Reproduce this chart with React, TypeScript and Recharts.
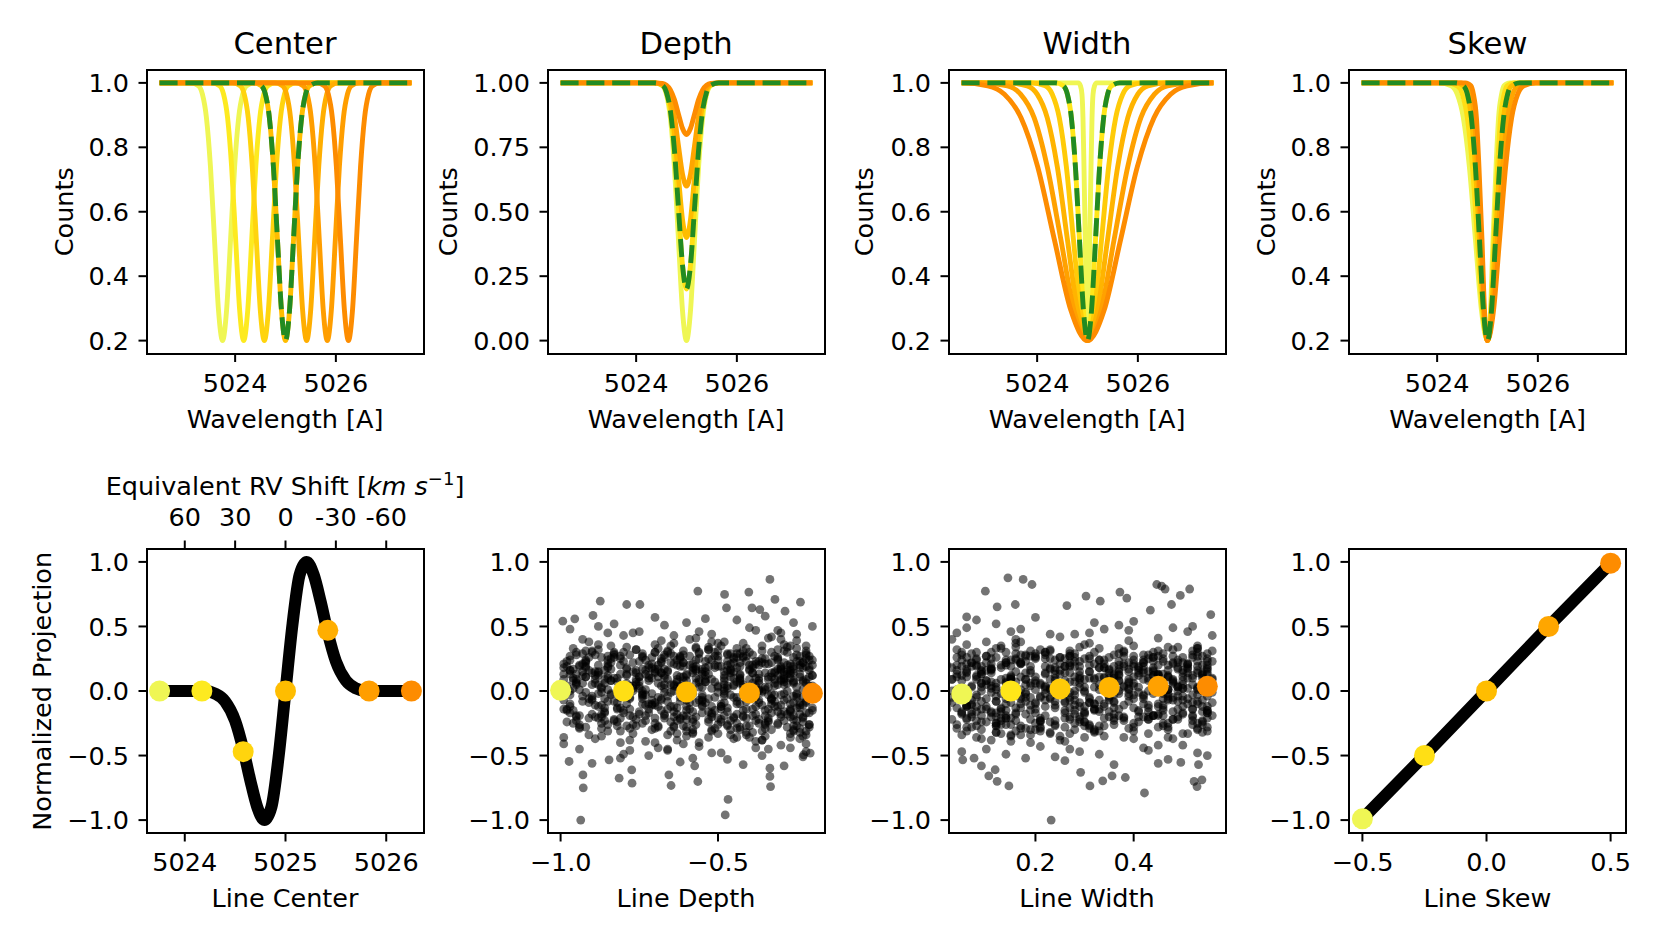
import React from "react";
import { ComposedChart, Line, Scatter, XAxis, YAxis } from "recharts";

type Pt = { x: number; y: number; c?: string };

const FONT = "'DejaVu Sans', Verdana, sans-serif";
const TICK_PX = 25.5;
const TITLE_PX = 30.6;

// Wistia samples, yellow -> orange
const colors7 = ["#eff654", "#fdea20", "#ffd40e", "#ffbd00", "#ffae00", "#ff9e00", "#fd8c00"];
const colors6 = ["#eff654", "#ffe619", "#ffcb08", "#ffb400", "#ffa100", "#fd8c00"];
const colors5 = ["#eff654", "#ffdf15", "#ffbd00", "#ffa600", "#fd8c00"];
const refGreen = "#228b22";

const panelTitles = ["Center", "Depth", "Width", "Skew"];
const bottomLabels = ["Line Center", "Line Depth", "Line Width", "Line Skew"];

// spectra run over this wavelength range
const waveStart = 5022.5;
const waveEnd = 5027.5;

// reference line: counts at each level and distance from line centre [A]
const refLevels = [1.0, 0.991, 0.965, 0.892, 0.74, 0.515, 0.294, 0.2];
const refOffsets = [0.64, 0.48, 0.4, 0.32, 0.24, 0.16, 0.08, 0];

// "Center" panel
const lineCenters = [5023.75, 5024.17, 5024.58, 5025.0, 5025.42, 5025.83, 5026.25];

// "Depth" panel: counts at the same offsets
const depthLevels = [
  [1, 0.989, 0.956, 0.865, 0.675, 0.393, 0.118, 0],
  [1, 0.991, 0.965, 0.892, 0.74, 0.515, 0.294, 0.2],
  [1, 0.993, 0.974, 0.919, 0.805, 0.636, 0.471, 0.4],
  [1, 0.996, 0.982, 0.946, 0.87, 0.757, 0.647, 0.6],
  [1, 0.998, 0.991, 0.973, 0.935, 0.879, 0.824, 0.8],
];

// "Width" panel: offsets at the reference levels
const widthOffsets = [
  [0.18, 0.14, 0.11, 0.09, 0.07, 0.045, 0.02, 0],
  [0.64, 0.48, 0.4, 0.32, 0.24, 0.16, 0.08, 0],
  [1.12, 0.84, 0.7, 0.56, 0.42, 0.28, 0.14, 0],
  [1.6, 1.2, 1.0, 0.8, 0.6, 0.4, 0.2, 0],
  [2.12, 1.59, 1.33, 1.06, 0.8, 0.53, 0.27, 0],
  [2.49, 1.98, 1.65, 1.32, 0.99, 0.66, 0.33, 0],
];

// "Skew" panel: blue-side / red-side offsets
const skewLeft = [
  [0.96, 0.72, 0.6, 0.48, 0.36, 0.24, 0.12, 0],
  [0.8, 0.6, 0.5, 0.4, 0.3, 0.2, 0.1, 0],
  [0.64, 0.48, 0.4, 0.32, 0.24, 0.16, 0.08, 0],
  [0.52, 0.39, 0.33, 0.26, 0.2, 0.13, 0.07, 0],
  [0.44, 0.33, 0.28, 0.22, 0.17, 0.11, 0.06, 0],
];
const skewRight = [
  [0.44, 0.33, 0.28, 0.22, 0.17, 0.11, 0.06, 0],
  [0.52, 0.39, 0.33, 0.26, 0.2, 0.13, 0.07, 0],
  [0.64, 0.48, 0.4, 0.32, 0.24, 0.16, 0.08, 0],
  [0.8, 0.6, 0.5, 0.4, 0.3, 0.2, 0.1, 0],
  [0.96, 0.72, 0.6, 0.48, 0.36, 0.24, 0.12, 0],
];

// bottom row
const projWave = [5023.75, 5024.2, 5024.3, 5024.4, 5024.5, 5024.58, 5024.65, 5024.72, 5024.79, 5024.86, 5024.93, 5025.0,
  5025.07, 5025.14, 5025.21, 5025.28, 5025.35, 5025.42, 5025.5, 5025.6, 5025.7, 5025.8, 5026.25];
const projValue = [0, 0, -0.02, -0.08, -0.23, -0.45, -0.69, -0.9, -1.0, -0.9, -0.52, 0,
  0.52, 0.9, 1.0, 0.9, 0.69, 0.45, 0.23, 0.08, 0.02, 0, 0];
const centerPtX = [5023.75, 5024.17, 5024.58, 5025.0, 5025.42, 5025.83, 5026.25];
const centerPtY = [0, 0, -0.47, 0, 0.47, 0, 0];

const depthPtX = [-1.0, -0.8, -0.6, -0.4, -0.2];
const depthPtY = [0.005, 0.0, -0.008, -0.015, -0.018];
const widthPtX = [0.05, 0.15, 0.25, 0.35, 0.45, 0.55];
const widthPtY = [-0.023, 0.0, 0.016, 0.028, 0.036, 0.036];
const skewPtX = [-0.5, -0.25, 0, 0.25, 0.5];
const skewPtY = [-0.99, -0.5, 0, 0.5, 0.99];
const skewLineX = [-0.5, -0.25, 0, 0.25, 0.5];
const skewLineY = [-0.99, -0.5, 0, 0.5, 0.99];

const rvTickWaves = [5024, 5024.5, 5025, 5025.5, 5026];
const rvTickLabels = ["60", "30", "0", "-30", "-60"];

// noise clouds, x,y pairs
const depthCloud = [
  -.936,-1.0, -.477,-.96, -.468,-.84, -.928,-.75, -.929,-.65, -.335,.864, -.564,.774, -.479,.748, -.402,.766, -.238,.688,
  -.319,.709, -.874,.696, -.79,.67, -.748,.67, -.473,.644, -.392,.644, -.367,.631, -.287,.618, -.897,.585, -.993,.541,
  -.955,.559, -.814,-.675, -.774,-.611, -.773,-.714, -.649,-.732, -.564,-.701, -.574,-.58, -.333,-.74, -.335,-.662, -.335,-.598,
  -.207,-.481, -.228,-.494, -.973,-.546, -.846,-.533, -.656,-.649,
  -.93,.12, -.41,-.21, -.67,.05, -.25,.33, -.82,-.09, -.54,.18, -.36,-.38, -.71,.26, -.98,-.14, -.47,.02,
  -.61,-.27, -.29,.09, -.88,.36, -.44,-.05, -.76,.14, -.22,-.31, -.57,.41, -.95,.07, -.33,-.17, -.69,-.44,
  -.85,.21, -.52,-.12, -.27,.19, -.64,.00, -.91,-.34, -.39,.28, -.74,-.06, -.21,.11, -.58,-.22, -.80,.43,
  -.45,.04, -.97,.24, -.31,-.26, -.66,.15, -.84,-.02, -.50,.37, -.23,-.11, -.78,-.29, -.36,.22, -.62,-.08,
  -.90,-.18, -.42,.31, -.70,-.40, -.26,.06, -.55,.13, -.83,.29, -.34,-.03, -.60,-.35, -.96,.17, -.48,-.19,
  -.72,.10, -.30,-.42, -.87,.02, -.53,.25, -.20,-.15, -.65,-.24, -.40,.16, -.79,.34, -.99,-.07, -.46,-.30,
  -.24,.27, -.59,-.01, -.81,-.21, -.37,.08, -.68,.39, -.94,-.26, -.43,-.10, -.28,.20, -.75,-.16, -.51,.30,
  -.86,.06, -.32,.14, -.63,-.33, -.21,-.04, -.77,.22, -.49,-.14, -.92,.31, -.38,-.23, -.56,.09, -.73,-.39,
  -.44,.18, -.89,-.11, -.27,-.36, -.67,.12, -.35,.03, -.82,-.27, -.52,.44, -.24,.23, -.97,.00, -.60,-.12,
  -.78,-.05, -.42,.27, -.58,.16, -.30,-.20, -.85,.19, -.66,-.46, -.23,.08, -.48,-.02, -.91,.38, -.39,-.32,
  -.63,.24, -.25,-.13, -.80,.01, -.45,-.37, -.70,.30, -.33,.11, -.95,-.19, -.54,.07, -.28,-.06, -.74,.17,
  -.37,-.25, -.88,.12, -.57,-.09, -.22,.35, -.69,-.28, -.47,.20, -.84,-.03, -.31,.26, -.64,.05, -.99,-.36,
  -.53,.32, -.29,-.16, -.76,.09, -.41,-.04, -.93,.15, -.61,-.41, -.35,.21, -.83,-.22, -.26,-.30, -.56,.03,
  -.72,-.14, -.43,.06, -.20,.24, -.67,-.19, -.89,.28, -.50,-.33, -.32,-.08, -.79,.13, -.59,.40, -.94,.01,
  -.27,.10, -.65,.35, -.87,-.25, -.40,.17, -.55,-.07, -.23,-.35, -.75,.04, -.46,.29, -.97,-.12, -.34,-.45,
  -.60,.08, -.81,-.31, -.38,.23, -.71,-.02, -.29,.15, -.52,-.20, -.92,.22, -.44,-.10, -.66,.31, -.21,.02,
  -.86,-.17, -.35,-.29, -.62,.19, -.25,.28, -.78,-.06, -.48,.12, -.96,.33, -.57,-.26, -.31,.05, -.73,-.11,
  -.42,.37, -.90,-.04, -.54,.07, -.24,-.18, -.68,.25, -.36,-.38, -.83,.10, -.47,.16, -.63,-.23, -.28,.30,
  -.77,.00, -.51,-.15, -.33,.42, -.85,.18, -.58,-.32, -.22,-.09, -.70,.14, -.40,-.27, -.95,.06, -.64,.21,
  -.30,-.03, -.74,.26, -.45,-.21, -.89,-.37, -.61,.11, -.26,.17, -.82,-.13, -.53,.34, -.37,.01, -.98,.23,
  -.56,-.40, -.23,.22, -.69,-.05, -.43,.09, -.91,.16, -.34,-.24, -.76,.32, -.49,-.12, -.27,-.16, -.62,.04,
  -.81,.27, -.39,.00, -.59,.20, -.22,-.41, -.72,-.17, -.46,.14, -.94,-.28, -.31,.25, -.67,-.01, -.52,.38,
  -.28,.13, -.84,.08, -.41,-.34, -.65,.29, -.36,-.11, -.87,-.20, -.55,.03, -.24,.18, -.77,.45, -.47,-.26,
  -.93,-.08, -.50,.24, -.32,.06, -.71,-.30, -.20,.12, -.60,-.15, -.44,.33, -.80,.02, -.26,-.22, -.57,.17,
  -.66,.30, -.37,-.07, -.86,-.23, -.48,.10, -.29,.36, -.75,.07, -.53,-.36, -.97,.13, -.40,-.02, -.63,-.18,
  -.21,-.26, -.70,.15, -.45,.25, -.88,.05, -.34,-.14, -.58,.21, -.79,-.10, -.25,.39, -.51,-.29, -.92,.11,
  -.38,.04, -.64,-.20, -.27,-.33, -.83,.26, -.43,.19, -.74,-.04, -.30,.08, -.56,-.43, -.96,-.15, -.47,.28,
  -.73,.16, -.23,.01, -.61,.31, -.39,-.19, -.90,-.06, -.52,.09, -.35,-.25, -.68,.23, -.85,-.31, -.26,.14,
  -.49,-.10, -.81,.20, -.32,.27, -.59,-.01, -.24,-.37, -.72,.12, -.42,.05, -.95,.30, -.55,-.17, -.36,.35,
  -.87,.03, -.46,-.23, -.21,.18, -.65,-.12, -.33,.22, -.78,-.38, -.54,.15, -.29,-.07, -.99,.09, -.62,.26,
  -.41,-.32, -.76,.07, -.25,-.03, -.57,.19, -.84,.35, -.37,.13, -.69,-.27, -.48,.00, -.22,.29, -.91,-.21,
  -.60,.12, -.30,.40, -.80,-.15, -.44,-.08, -.67,.17, -.23,-.20, -.52,.24, -.89,.06, -.35,-.35, -.74,-.02,
  -.27,.16, -.58,-.30, -.93,.21, -.40,.02, -.71,-.11, -.31,.32, -.85,-.08, -.50,.19, -.64,.37, -.20,-.13,
  -.82,-.24, -.45,.15, -.28,-.18, -.63,.07, -.97,.27, -.38,-.44, -.75,.11, -.55,-.05, -.24,.20, -.69,.33,
  -.36,.25, -.88,-.02, -.53,-.22, -.21,.04, -.79,.18, -.47,-.16, -.33,.14, -.66,-.34, -.92,.24, -.43,.08,
  -.70,-.09, -.26,-.27, -.61,.28, -.85,.12, -.39,-.01, -.57,.34, -.94,-.19, -.29,.10, -.50,.03, -.77,-.33,
  -.46,.21, -.73,.01, -.22,.31, -.59,-.14, -.34,-.21, -.86,.09, -.42,.26, -.68,-.07, -.98,-.24, -.31,.17,
  -.55,-.03, -.90,.14, -.37,.06, -.64,-.28, -.25,.23, -.80,.30, -.49,-.12, -.23,-.05, -.72,.20, -.44,-.36,
  -.83,.28, -.33,-.10, -.67,-.18, -.48,.38, -.95,.05, -.27,.13, -.58,-.24, -.76,.16, -.40,.09, -.21,-.28,
  -.62,.11, -.87,-.29, -.30,.19, -.53,-.06, -.78,-.14, -.41,.27, -.96,.02, -.35,-.19, -.70,.36, -.51,.07,
  -.24,-.11, -.65,.22, -.89,.15, -.44,-.25, -.32,.04, -.74,-.03, -.56,.29, -.20,.12, -.81,-.40, -.38,-.05,
  -.92,.18, -.49,.35, -.27,-.15, -.71,.10, -.60,-.22, -.37,.00, -.84,.25, -.22,-.34, -.54,-.09, -.68,.14,
  -.43,-.30, -.79,.06, -.26,.26, -.57,.16, -.97,-.10, -.34,.21, -.63,-.38, -.46,.11, -.88,.32, -.29,-.02,
  -.75,.23, -.52,-.17, -.23,.07, -.85,-.26, -.40,.30, -.68,.04, -.31,-.12, -.94,.19, -.59,.27, -.45,-.20,
  -.28,.34, -.66,-.08, -.82,.10, -.36,-.31, -.55,.15, -.21,.24, -.73,-.19, -.48,-.04, -.99,.13, -.39,.20,
  -.58,-.16, -.32,.09, -.87,-.35, -.47,.29, -.25,-.23, -.70,.17, -.42,.03, -.91,-.06, -.61,.22, -.34,.41,
  -.80,.01, -.44,-.18, -.63,.12, -.29,.31, -.76,-.27, -.51,.18, -.22,.06, -.86,-.13, -.38,-.39, -.67,.26,
  -.35,.14, -.95,.28, -.56,-.07, -.24,-.29, -.72,.08, -.43,.22, -.89,-.20, -.30,.16, -.60,-.31, -.48,.05,
  -.69,-.12, -.27,.35, -.81,.13, -.50,-.26, -.37,.10, -.92,-.01, -.64,.27, -.21,-.17, -.46,.17, -.77,.04,
  -.41,.23, -.62,-.21, -.33,-.06, -.88,.20, -.53,.32, -.26,-.09, -.74,-.25, -.97,.16, -.39,-.14, -.57,.10,
  -.97,.48, -.58,-.52, -.31,.47, -.80,-.49, -.44,.55, -.22,-.47, -.67,.51, -.90,-.56, -.36,-.50, -.75,.46,
  -.52,-.48, -.26,.53, -.85,.45, -.62,-.55, -.40,.49, -.94,-.45, -.70,.57, -.29,-.58, -.47,-.53, -.83,.52,
  -.35,.58, -.99,-.41, -.56,.46, -.23,-.51, -.78,-.46, -.64,.43, -.42,-.57, -.88,.50, -.30,.45, -.72,-.50,
  -.60,.53, -.27,-.44, -.93,.40, -.49,-.48, -.20,.50, -.81,-.52, -.38,.47, -.66,-.45, -.54,.56, -.25,.44,
  -.98,.19, -.55,-.08, -.31,.12, -.74,.27, -.42,-.19, -.87,-.01, -.23,-.24, -.63,.09, -.36,.31, -.81,-.13,
  -.50,.04, -.92,-.28, -.27,.21, -.68,-.15, -.45,.26, -.21,-.06, -.79,.17, -.58,-.33, -.34,.03, -.96,.10,
  -.70,-.21, -.39,.14, -.83,.30, -.25,-.02, -.61,.22, -.47,-.27, -.90,.05, -.30,-.18, -.75,.11, -.53,.19,
  -.22,.28, -.66,-.04, -.95,-.20, -.44,.07, -.57,.33, -.33,-.30, -.86,.16, -.71,-.10, -.28,.00, -.49,-.22,
  -.85,.24, -.37,-.09, -.60,.13, -.20,.20, -.77,-.26, -.52,.02, -.93,.29, -.41,-.14, -.65,-.31, -.26,.08,
  -.48,.15, -.73,-.23, -.32,-.12, -.89,.09, -.56,.25, -.24,-.32, -.69,.06, -.99,.18, -.38,.21, -.62,-.05,
  -.80,-.17, -.43,.29, -.29,.05, -.67,-.21, -.91,-.09, -.54,.12, -.21,.16, -.76,.32, -.46,-.03, -.35,-.26,
  -.59,.01, -.84,.22, -.27,-.14, -.72,.18, -.40,-.36, -.97,-.03, -.51,.27, -.30,.09, -.64,-.12, -.88,.14,
  -.33,-.07, -.78,.04, -.57,-.20, -.22,.25, -.94,.20, -.45,.10, -.70,-.29, -.26,-.19, -.82,.07, -.50,.31,
  -.66,.16, -.36,.00, -.87,-.11, -.53,-.24, -.24,.13, -.73,.24, -.42,-.15, -.96,-.25, -.61,.08, -.29,.22,
  -.90,.31, -.48,-.09, -.25,-.27, -.63,.03, -.39,.18, -.81,-.05, -.58,.14, -.21,-.01, -.75,-.18, -.44,.26,
  -.34,.11, -.69,.20, -.86,-.16, -.52,-.31, -.28,.06, -.95,.13, -.60,-.07, -.41,.33, -.77,.02, -.23,-.21,
  -.55,-.12, -.30,.17, -.92,.23, -.47,.04, -.72,-.10, -.37,-.22, -.84,.08, -.62,.27, -.26,-.04, -.99,-.14,
  -.79,.12, -.43,-.28, -.65,-.01, -.31,.24, -.88,.15, -.56,.07, -.22,-.17, -.70,-.25, -.49,.19, -.35,.01,
  -.61,-.19, -.93,.06, -.38,.10, -.74,.29, -.27,-.10, -.51,-.05, -.83,-.23, -.45,.22, -.68,.14, -.20,.04,
  -.42,-.02, -.87,.26, -.58,.18, -.24,-.13, -.76,.05, -.33,.30, -.97,-.17, -.64,-.27, -.48,.08, -.29,-.23,
  -.71,.21, -.53,-.16, -.36,-.01, -.90,-.07, -.26,.19, -.67,.10, -.44,-.29, -.80,.23, -.59,.03, -.32,.15,
  -.95,.09, -.40,.20, -.63,-.13, -.22,-.08, -.78,.28, -.50,-.21, -.85,.01, -.30,-.11, -.69,.17, -.46,-.34,
  -.57,.06, -.27,-.20, -.82,-.14, -.43,.13, -.73,-.03, -.35,.25, -.92,.19, -.60,.00, -.24,.11, -.52,-.18,
  -.86,-.06, -.47,.23, -.66,.09, -.31,-.25, -.98,.04, -.55,-.11, -.21,.27, -.77,-.20, -.39,.06, -.70,.30,
  -.28,.16, -.62,-.22, -.89,.12, -.45,-.05, -.34,.09, -.75,.02, -.51,.20, -.94,-.29, -.25,.03, -.64,-.16,
  -.81,.25, -.38,-.12, -.56,.30, -.23,.18, -.71,-.07, -.49,-.24, -.96,.08, -.33,-.02, -.68,.22, -.43,.12,
  -.60,-.28, -.84,.17, -.29,.07, -.53,.13, -.78,-.19, -.41,-.08, -.91,.26, -.26,-.31, -.65,.05, -.37,.20,
  -.74,.00, -.46,.16, -.99,.21, -.31,-.16, -.58,-.02, -.88,-.12, -.22,.09, -.67,.28, -.42,-.20, -.54,.23,
  -.35,-.15, -.69,.11, -.93,-.04, -.50,.27, -.27,.14, -.79,-.27, -.61,.19, -.40,.01, -.85,.10, -.24,-.09,
  -.57,.24, -.32,-.03, -.76,-.22, -.47,-.13, -.97,.16, -.64,.04, -.21,-.26, -.83,-.08, -.44,.29, -.70,-.11,
  -.26,.07, -.90,.30, -.59,-.09, -.37,.23, -.73,.13, -.52,-.30, -.87,-.18, -.30,.18, -.66,-.14, -.48,.02,
  -.95,-.23, -.43,.10, -.23,.22, -.68,-.06, -.55,.17, -.81,.03, -.38,-.18, -.62,.25, -.28,-.28, -.77,.15,
  -.50,-.01, -.71,.18, -.34,-.23, -.92,.11, -.25,-.05, -.60,-.19, -.85,.27, -.45,.05, -.74,-.10, -.39,.14,
  -.63,.20, -.29,.12, -.80,-.03, -.54,.09, -.98,-.15, -.41,-.27, -.67,.02, -.22,.19, -.88,-.21, -.33,-.06,
];

const widthCloud = [
  .232,-1.0, .422,-.79, .146,-.735, .122,-.70, .118,-.61, .105,-.657, .311,-.735, .337,-.696, .356,-.657, .383,-.67,
  .292,-.63, .529,-.74, .539,-.688, .523,-.70, .532,-.57, .496,-.553, .144,.877, .175,.864, .193,.825, .098,.773,
  .447,.825, .457,.812, .464,.79, .514,.79, .495,.74, .303,.735, .372,.766, .386,.72, .332,.696, .122,.652,
  .159,.67, .264,.662, .06,.574, .052,-.533, .075,-.52, .557,.592, .434,.626, .477,.67,
  .07,-.18, .33,.24, .49,.03, .15,-.35, .41,.12, .22,-.07, .55,.29, .11,.16, .28,-.25, .46,-.02,
  .19,.31, .52,-.14, .05,.08, .37,.20, .26,-.39, .44,.05, .13,-.21, .31,.37, .56,-.09, .09,.13,
  .40,-.28, .17,.01, .50,.22, .24,.10, .06,-.31, .35,-.16, .47,.34, .12,-.04, .29,.15, .54,-.23,
  .21,.06, .43,-.33, .08,.25, .32,-.10, .53,.14, .16,.40, .38,-.20, .25,.02, .48,-.05, .04,-.26,
  .34,.18, .10,-.12, .45,-.42, .27,.27, .56,.09, .14,-.19, .39,.07, .20,-.30, .51,.21, .30,-.01,
  .12,.33, .42,.16, .23,-.24, .55,-.17, .07,.04, .36,.28, .18,-.08, .47,-.36, .28,.11, .09,-.14,
  .50,.26, .16,.00, .33,-.27, .05,.19, .40,-.06, .22,.13, .53,-.29, .30,.36, .11,-.38, .45,.08,
  .26,-.15, .49,.17, .08,-.03, .37,.23, .19,-.22, .56,.31, .14,.10, .43,-.11, .32,-.32, .04,.20,
  .39,.02, .13,-.26, .46,.29, .24,-.13, .52,-.20, .06,.14, .35,-.04, .17,.38, .29,.06, .48,-.37,
  .20,-.09, .54,.12, .10,.27, .41,-.01, .27,.19, .15,-.34, .50,-.12, .31,.25, .07,-.20, .44,.15,
  .36,-.23, .09,.06, .47,.01, .22,.30, .55,-.28, .18,.09, .42,.22, .12,-.17, .33,-.07, .25,.42,
  .06,-.11, .30,-.36, .51,.18, .16,.24, .38,.04, .04,.32, .45,-.18, .26,-.02, .53,.35, .21,-.24,
  .43,.10, .14,.20, .28,-.30, .49,-.08, .11,-.01, .35,.14, .19,-.40, .56,.23, .32,.03, .08,-.27,
  .24,.16, .47,-.25, .13,.35, .40,.11, .05,-.16, .29,-.09, .52,.05, .17,.28, .37,-.19, .55,.13,
  .31,-.05, .07,.22, .44,.26, .20,-.14, .50,-.33, .26,.08, .10,-.06, .39,.39, .15,.12, .48,-.22,
  .17,-.29, .53,.02, .34,.21, .09,-.37, .42,-.03, .23,.17, .55,-.15, .12,.26, .46,.07, .28,-.18,
  .45,.31, .21,-.04, .06,.17, .38,-.21, .27,.29, .51,.10, .14,-.10, .32,-.31, .04,.01, .41,.19,
  .11,.07, .36,.13, .52,-.26, .19,.19, .30,-.12, .08,-.23, .48,.27, .25,-.35, .43,.00, .16,.34,
  .33,-.16, .56,.05, .12,-.32, .47,.16, .22,.04, .40,-.13, .05,.28, .29,.23, .54,-.07, .18,-.02,
  .27,.22, .09,-.08, .44,-.19, .15,.09, .37,.33, .53,-.30, .24,-.27, .06,.11, .34,.18, .49,.24,
  .14,-.06, .42,.19, .28,.07, .55,.20, .03,-.22, .31,-.29, .20,.27, .46,-.11, .10,.38, .36,-.03,
  .50,-.17, .18,.14, .39,-.08, .07,-.28, .25,.21, .53,.01, .13,-.33, .44,.30, .32,-.14, .21,.05,
  .08,.24, .35,-.05, .47,.12, .16,-.18, .29,.34, .41,-.24, .23,.02, .55,-.04, .11,.17, .38,-.36,
  .30,.09, .52,.26, .12,.03, .43,-.16, .19,-.11, .06,.36, .37,.15, .26,-.21, .49,.18, .15,-.39,
  .45,-.10, .22,.25, .04,-.13, .33,.01, .54,-.24, .17,.21, .40,-.31, .09,.06, .28,.26, .51,-.06,
  .25,.13, .47,-.02, .14,.30, .36,-.26, .08,.11, .42,.24, .19,-.15, .53,.16, .31,-.09, .05,-.34,
  .38,.27, .11,-.20, .50,.08, .23,-.32, .44,.02, .16,.15, .56,-.19, .27,.07, .07,.22, .34,-.12,
  .18,-.01, .40,-.37, .29,.19, .55,.25, .12,-.25, .48,-.07, .21,.32, .03,.00, .36,.12, .46,-.27,
  .06,.15, .31,.10, .43,.28, .15,-.09, .52,-.14, .24,-.23, .10,.27, .39,-.02, .20,.08, .49,.34,
  .35,-.20, .17,-.13, .54,.14, .28,.23, .08,-.05, .45,.20, .32,-.30, .13,.18, .41,-.16, .23,.01,
  .48,.06, .26,-.17, .05,.12, .37,.29, .19,-.34, .53,-.10, .11,.02, .42,.09, .30,-.24, .15,.24,
  .22,-.12, .44,.16, .09,-.19, .33,.05, .51,.21, .16,-.03, .39,-.29, .27,.31, .55,-.21, .03,.09,
  .40,.35, .12,-.27, .49,-.04, .20,.11, .34,-.10, .07,-.16, .46,.13, .25,-.38, .14,.06, .54,.27,
  .29,.03, .51,-.33, .17,.22, .43,-.22, .10,.16, .36,.19, .23,-.06, .47,.01, .05,.30, .32,-.15,
  .13,.20, .38,-.11, .55,.07, .26,.14, .45,-.28, .18,.28, .32,.09, .08,-.12, .50,-.18, .21,-.31,
  .42,-.04, .24,.18, .06,-.21, .53,.33, .30,.00, .15,-.26, .47,.11, .35,-.07, .11,.25, .27,-.20,
  .20,.29, .49,.04, .34,-.35, .09,.03, .44,.23, .27,-.13, .02,-.09, .39,.17, .56,-.01, .16,-.17,
  .37,.12, .14,.07, .52,-.23, .25,.26, .41,.14, .07,.19, .31,-.27, .48,.32, .19,-.05, .45,-.12,
  .10,-.24, .33,.33, .46,-.15, .22,-.02, .54,.10, .28,.19, .12,-.32, .40,.06, .17,.21, .50,.02,
  .26,-.08, .04,.13, .38,.21, .55,-.12, .16,.37, .43,-.20, .31,.15, .08,.09, .47,-.30, .23,.25,
  .35,.04, .51,.20, .13,-.14, .29,-.22, .45,.12, .20,-.10, .06,.26, .40,-.25, .24,.08, .53,-.03,
  .17,.11, .42,-.06, .27,.27, .09,-.30, .49,.03, .34,.24, .15,-.01, .55,.17, .30,-.17, .11,.14,
  .44,-.19, .21,-.28, .36,.10, .03,.18, .52,-.09, .25,.16, .39,-.04, .14,-.21, .48,.22, .32,.30,
  .07,-.07, .46,.25, .19,.04, .54,-.16, .28,-.11, .11,.21, .37,.00, .23,-.33, .50,.11, .41,.18,
  .31,.15, .16,-.23, .43,-.13, .05,-.01, .35,.26, .55,.06, .22,.19, .48,-.22, .12,-.08, .27,-.05,
  .06,.49, .29,-.47, .51,.46, .18,-.52, .40,.54, .10,-.45, .34,.48, .55,-.50, .23,.44, .45,-.56,
  .14,-.49, .37,.51, .04,.45, .26,-.54, .48,.49, .20,.57, .43,-.46, .09,-.58, .31,.45, .53,-.48,
  .39,.47, .12,.52, .47,-.53, .28,.44, .05,-.47, .33,-.49, .56,.43, .17,.48, .42,-.44, .24,-.51,
  .08,.55, .45,.41, .21,-.43, .52,.50, .36,-.57, .15,.46, .27,-.45, .50,-.42, .03,.40, .32,.53,
  .09,.19, .36,-.08, .52,.12, .18,.27, .44,-.19, .05,-.01, .29,-.24, .48,.09, .23,.31, .13,-.13,
  .40,.04, .06,-.28, .32,.21, .55,-.15, .20,.26, .46,-.06, .11,.17, .27,-.33, .53,.03, .15,.10,
  .34,-.21, .50,.14, .08,.30, .25,-.02, .42,.22, .17,-.27, .55,.05, .30,-.18, .04,.11, .38,.19,
  .22,.28, .47,-.04, .12,-.20, .35,.07, .53,.33, .19,-.30, .41,.16, .07,-.10, .28,.00, .49,-.22,
  .14,.24, .31,-.09, .45,.13, .02,.20, .24,-.26, .51,.02, .16,.29, .37,-.14, .55,-.31, .10,.08,
  .43,.15, .21,-.23, .06,-.12, .39,.09, .26,.25, .54,-.32, .12,.06, .33,.18, .48,.21, .18,-.05,
  .05,-.17, .28,.29, .50,.05, .15,-.21, .36,-.09, .44,.12, .09,.16, .23,.32, .52,-.03, .31,-.26,
  .47,.01, .17,.22, .33,-.14, .55,.18, .08,-.36, .25,-.03, .40,.27, .13,.09, .29,-.12, .51,.14,
  .27,-.07, .11,.04, .42,-.20, .20,.25, .54,.20, .35,.10, .04,-.29, .46,-.19, .16,.07, .38,.31,
  .19,.16, .49,.00, .07,-.11, .30,-.24, .45,.13, .24,.24, .14,-.15, .53,-.25, .37,.08, .10,.22,
  .52,.31, .26,-.09, .12,-.27, .41,.03, .33,.18, .03,-.05, .22,.14, .55,-.01, .18,-.18, .44,.26,
  .34,.11, .08,.20, .48,-.16, .16,-.31, .39,.06, .54,.13, .28,-.07, .13,.33, .45,.02, .21,-.21,
  .06,-.12, .37,.17, .53,.23, .24,.04, .17,-.10, .43,-.22, .10,.08, .31,.27, .50,-.04, .02,-.14,
  .29,.12, .47,-.28, .15,-.01, .40,.24, .09,.15, .35,.07, .55,-.17, .20,-.25, .26,.19, .12,.01,
  .45,-.19, .19,.06, .32,.10, .07,.29, .51,-.10, .23,-.05, .38,-.23, .14,.22, .42,.14, .55,.04,
  .25,-.02, .04,.26, .44,.18, .16,-.13, .36,.05, .53,.30, .11,-.17, .30,-.27, .48,.08, .21,-.23,
  .40,.21, .13,-.16, .27,-.01, .50,-.07, .08,.19, .34,.10, .18,-.29, .46,.23, .22,.03, .55,.15,
  .03,.09, .31,.20, .46,-.13, .24,-.08, .52,.28, .14,-.21, .39,.01, .06,-.11, .35,.17, .17,-.34,
  .20,.06, .49,-.20, .10,-.14, .37,.13, .28,-.03, .43,.25, .15,.19, .54,.00, .33,.11, .05,-.18,
  .47,-.06, .18,.23, .29,.09, .12,-.25, .41,-.20, .25,.04, .53,.27, .08,.12, .37,-.02, .22,.30,
  .35,.16, .06,-.22, .44,.12, .21,-.05, .15,.09, .50,.02, .27,.20, .11,-.16, .42,-.10, .32,-.14,
  .16,.25, .54,-.12, .38,.30, .23,.18, .47,-.07, .09,-.24, .30,.03, .55,.23, .13,-.02, .45,.12,
  .26,-.28, .48,.07, .03,-.09, .36,-.18, .19,.14, .42,.28, .10,.05, .33,-.31, .52,.10, .24,.13,
  .07,.03, .40,-.03, .22,-.19, .53,.19, .14,.22, .30,-.16, .46,-.25, .17,-.06, .39,.22, .01,.11,
  .51,.17, .20,.01, .34,-.27, .11,.18, .44,.04, .27,-.22, .06,.21, .49,-.14, .29,.10, .18,.05,
  .32,-.10, .15,.11, .55,.06, .25,.26, .41,-.15, .04,.16, .37,.08, .21,-.29, .47,.20, .12,-.08,
  .45,.27, .09,.00, .29,-.20, .52,-.19, .17,-.04, .39,.15, .23,.09, .05,.24, .34,.02, .56,.10,
  .13,-.23, .43,.08, .26,.19, .08,-.16, .49,.22, .31,-.06, .19,.27, .54,-.26, .36,-.13, .22,.01,
  .38,.03, .11,.30, .47,.11, .28,-.15, .15,.07, .53,-.08, .24,-.11, .40,.19, .06,-.03, .30,.25,
  .20,-.17, .44,-.02, .33,.24, .09,.13, .50,.16, .18,.09, .36,-.21, .27,.14, .54,.03, .14,-.26,
];

// axes
const topYTicks = [0.2, 0.4, 0.6, 0.8, 1.0];
const depthYTicks = [0, 0.25, 0.5, 0.75, 1.0];
const bottomYTicks = [-1, -0.5, 0, 0.5, 1];
const waveTicks = [5024, 5026];
const centerTicks = [5024, 5025, 5026];
const depthTicks = [-1.0, -0.5];
const widthTicks = [0.2, 0.4];
const skewTicks = [-0.5, 0, 0.5];

// layout (px)
const colLefts = [146.5, 547.5, 948.5, 1349];
const panelW = 277;
const topRowY = 70;
const topRowH = 283.5;
const botRowY = 549.3;
const botRowH = 284;
const countsX = [73.3, 457, 873.3, 1275];

const ML = 130;
const MR = 20;
const MT = 20;
const MB = 60;
const TOP_AXIS_H = 70;

const pairs = (flat: number[]): Pt[] => {
  const out: Pt[] = [];
  for (let i = 0; i < flat.length; i += 2) out.push({ x: flat[i], y: flat[i + 1] });
  return out;
};
const zipPts = (xs: number[], ys: number[], cs?: string[]): Pt[] =>
  xs.map((x, i) => ({ x, y: ys[i], c: cs ? cs[i] : undefined }));

// absorption line from the per-side offsets at each level
function dip(center: number, left: number[], right: number[], levels: number[]): Pt[] {
  const inner: Pt[] = [];
  left.forEach((o, i) => inner.push({ x: center - o, y: levels[i] }));
  for (let i = right.length - 2; i >= 0; i--) inner.push({ x: center + right[i], y: levels[i] });
  return [
    { x: waveStart, y: 1 },
    ...inner.filter((p) => p.x > waveStart && p.x < waveEnd),
    { x: waveEnd, y: 1 },
  ];
}

const fmt = (d: number) => (v: number) => (v < 0 ? "\u2212" : "") + Math.abs(v).toFixed(d);

const tickLine = { stroke: "#000", strokeWidth: 2 };
const tickText = { fontSize: TICK_PX, fill: "#000", fontFamily: FONT };

const cloudDot = (p: any) => <circle cx={p.cx} cy={p.cy} r={4.4} fill="#000" fillOpacity={0.55} />;
const bigDot = (p: any) => <circle cx={p.cx} cy={p.cy} r={10.5} fill={(p.payload && p.payload.c) || p.fill} />;

const curve = (pts: Pt[], color: string, key: string, dashed = false) => (
  <Line
    key={key}
    data={pts}
    dataKey="y"
    type="monotone"
    stroke={color}
    strokeWidth={4.9}
    strokeDasharray={dashed ? "18 7.8" : undefined}
    dot={false}
    activeDot={false}
    isAnimationActive={false}
  />
);

const refCurve = () => curve(dip(5025, refOffsets, refOffsets, refLevels), refGreen, "ref", true);

interface PanelProps {
  left: number;
  top: number;
  h: number;
  xDomain: [number, number];
  xTicks: number[];
  xFmt: (v: number) => string;
  yDomain: [number, number];
  yTicks: number[];
  yFmt: (v: number) => string;
  rvAxis?: boolean;
  children: React.ReactNode;
}

function Panel({ left, top, h, xDomain, xTicks, xFmt, yDomain, yTicks, yFmt, rvAxis, children }: PanelProps) {
  const mt = rvAxis ? TOP_AXIS_H : MT;
  return (
    <div style={{ position: "absolute", left: left - ML, top: top - mt }}>
      <ComposedChart
        width={panelW + ML + MR}
        height={h + mt + MB}
        margin={{ top: rvAxis ? 0 : MT, right: MR, bottom: 0, left: 0 }}
      >
        <XAxis
          type="number"
          dataKey="x"
          domain={xDomain}
          ticks={xTicks}
          tickFormatter={xFmt}
          allowDataOverflow
          interval={0}
          height={MB}
          axisLine={false}
          tickLine={tickLine}
          tickSize={8.5}
          tickMargin={11.8}
          tick={tickText}
        />
        {rvAxis && (
          <XAxis
            xAxisId="rv"
            orientation="top"
            type="number"
            dataKey="x"
            domain={xDomain}
            ticks={rvTickWaves}
            tickFormatter={(v: number) => rvTickLabels[rvTickWaves.indexOf(v)]}
            allowDataOverflow
            interval={0}
            height={TOP_AXIS_H}
            axisLine={false}
            tickLine={tickLine}
            tickSize={8.5}
            tickMargin={14.8}
            tick={tickText}
          />
        )}
        <YAxis
          type="number"
          dataKey="y"
          domain={yDomain}
          ticks={yTicks}
          tickFormatter={yFmt}
          allowDataOverflow
          interval={0}
          width={ML}
          axisLine={false}
          tickLine={tickLine}
          tickSize={8.5}
          tickMargin={9.5}
          tick={tickText}
        />
        {children}
      </ComposedChart>
      <div
        style={{
          position: "absolute",
          left: ML - 1,
          top: mt - 1,
          width: panelW + 2,
          height: h + 2,
          border: "2px solid #000",
          boxSizing: "border-box",
          pointerEvents: "none",
        }}
      />
    </div>
  );
}

export default function App() {
  const waveDomain: [number, number] = [5022.25, 5027.75];
  const topDomain: [number, number] = [0.16, 1.04];
  const botDomain: [number, number] = [-1.1, 1.1];
  const f0 = fmt(0);
  const f1 = fmt(1);
  const f2 = fmt(2);

  return (
    <div style={{ position: "absolute", left: 0, top: 0, width: 1660, height: 943, background: "#fff", overflow: "hidden" }}>
      {/* top row: line profiles */}
      <Panel left={colLefts[0]} top={topRowY} h={topRowH} xDomain={waveDomain} xTicks={waveTicks} xFmt={f0}
        yDomain={topDomain} yTicks={topYTicks} yFmt={f1}>
        {lineCenters.map((c, i) => curve(dip(c, refOffsets, refOffsets, refLevels), colors7[i], `c${i}`))}
        {refCurve()}
      </Panel>
      <Panel left={colLefts[1]} top={topRowY} h={topRowH} xDomain={waveDomain} xTicks={waveTicks} xFmt={f0}
        yDomain={[-0.05, 1.05]} yTicks={depthYTicks} yFmt={f2}>
        {depthLevels.map((lv, i) => curve(dip(5025, refOffsets, refOffsets, lv), colors5[i], `d${i}`))}
        {refCurve()}
      </Panel>
      <Panel left={colLefts[2]} top={topRowY} h={topRowH} xDomain={waveDomain} xTicks={waveTicks} xFmt={f0}
        yDomain={topDomain} yTicks={topYTicks} yFmt={f1}>
        {widthOffsets.map((o, i) => curve(dip(5025, o, o, refLevels), colors6[i], `w${i}`))}
        {refCurve()}
      </Panel>
      <Panel left={colLefts[3]} top={topRowY} h={topRowH} xDomain={waveDomain} xTicks={waveTicks} xFmt={f0}
        yDomain={topDomain} yTicks={topYTicks} yFmt={f1}>
        {skewLeft.map((l, i) => curve(dip(5025, l, skewRight[i], refLevels), colors5[i], `s${i}`))}
        {refCurve()}
      </Panel>

      {/* bottom row: projections */}
      <Panel left={colLefts[0]} top={botRowY} h={botRowH} xDomain={[5023.625, 5026.375]} xTicks={centerTicks} xFmt={f0}
        yDomain={botDomain} yTicks={bottomYTicks} yFmt={f1} rvAxis>
        <Line
          xAxisId="rv"
          data={zipPts(projWave, projValue)}
          dataKey="y"
          type="monotone"
          stroke="#000"
          strokeWidth={12}
          strokeLinecap="round"
          dot={false}
          activeDot={false}
          isAnimationActive={false}
        />
        <Scatter data={zipPts(centerPtX, centerPtY, colors7)} shape={bigDot} isAnimationActive={false} />
      </Panel>
      <Panel left={colLefts[1]} top={botRowY} h={botRowH} xDomain={[-1.04, -0.16]} xTicks={depthTicks} xFmt={f1}
        yDomain={botDomain} yTicks={bottomYTicks} yFmt={f1}>
        <Scatter data={pairs(depthCloud)} shape={cloudDot} isAnimationActive={false} />
        <Scatter data={zipPts(depthPtX, depthPtY, colors5)} shape={bigDot} isAnimationActive={false} />
      </Panel>
      <Panel left={colLefts[2]} top={botRowY} h={botRowH} xDomain={[0.024, 0.588]} xTicks={widthTicks} xFmt={f1}
        yDomain={botDomain} yTicks={bottomYTicks} yFmt={f1}>
        <Scatter data={pairs(widthCloud)} shape={cloudDot} isAnimationActive={false} />
        <Scatter data={zipPts(widthPtX, widthPtY, colors6)} shape={bigDot} isAnimationActive={false} />
      </Panel>
      <Panel left={colLefts[3]} top={botRowY} h={botRowH} xDomain={[-0.554, 0.562]} xTicks={skewTicks} xFmt={f1}
        yDomain={botDomain} yTicks={bottomYTicks} yFmt={f1}>
        <Line
          data={zipPts(skewLineX, skewLineY)}
          dataKey="y"
          type="linear"
          stroke="#000"
          strokeWidth={12}
          strokeLinecap="round"
          dot={false}
          activeDot={false}
          isAnimationActive={false}
        />
        <Scatter data={zipPts(skewPtX, skewPtY, colors5)} shape={bigDot} isAnimationActive={false} />
      </Panel>

      {/* titles and axis labels */}
      <svg width={1660} height={943} style={{ position: "absolute", left: 0, top: 0, pointerEvents: "none" }}
        fontFamily={FONT} fill="#000">
        {panelTitles.map((t, i) => (
          <text key={t} x={colLefts[i] + panelW / 2} y={54.3} fontSize={TITLE_PX} textAnchor="middle">{t}</text>
        ))}
        {colLefts.map((l, i) => (
          <text key={`wl${i}`} x={l + panelW / 2} y={427.5} fontSize={TICK_PX} textAnchor="middle">Wavelength [A]</text>
        ))}
        {countsX.map((x, i) => (
          <text key={`ct${i}`} transform={`translate(${x},${topRowY + topRowH / 2}) rotate(-90)`} fontSize={TICK_PX}
            textAnchor="middle">Counts</text>
        ))}
        <text transform={`translate(50.7,${botRowY + botRowH / 2}) rotate(-90)`} fontSize={TICK_PX} textAnchor="middle">
          Normalized Projection
        </text>
        {bottomLabels.map((t, i) => (
          <text key={t} x={colLefts[i] + panelW / 2} y={906.7} fontSize={TICK_PX} textAnchor="middle">{t}</text>
        ))}
        <text x={colLefts[0] + panelW / 2} y={495} fontSize={TICK_PX} textAnchor="middle">
          Equivalent RV Shift [<tspan fontStyle="italic">km s</tspan>
          <tspan dy={-10} fontSize={18}>{"\u22121"}</tspan>
          <tspan dy={10}>]</tspan>
        </text>
      </svg>
    </div>
  );
}
